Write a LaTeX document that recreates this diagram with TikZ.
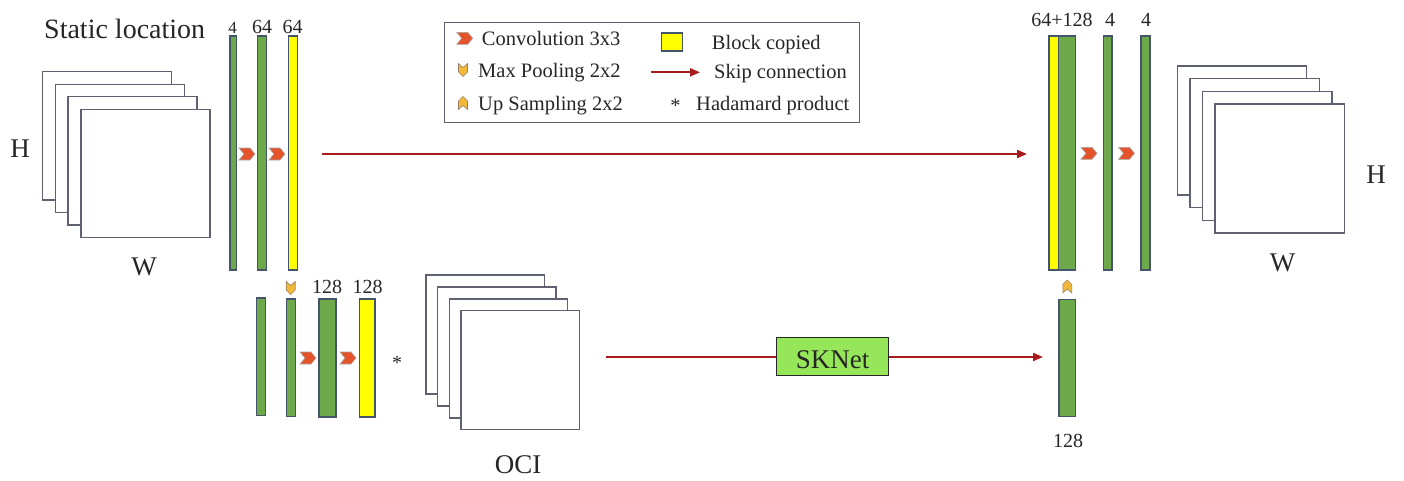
\documentclass[tikz,border=0pt]{standalone}
\usepackage{fontspec}
\setmainfont{Liberation Serif}
\usetikzlibrary{arrows.meta,fit}

\definecolor{barGreen}{HTML}{6DA94A}
\definecolor{barYellow}{HTML}{FFFF00}
\definecolor{barEdge}{HTML}{44546A}
\definecolor{mapEdge}{HTML}{5E6270}
\definecolor{skipRed}{HTML}{A51C1C}
\definecolor{convFill}{HTML}{E4532A}
\definecolor{poolFill}{HTML}{F2B83A}
\definecolor{sknetFill}{HTML}{96E65A}
\definecolor{inkGray}{HTML}{262626}

\tikzset{
  gbar/.style={draw=barEdge, fill=barGreen, line width=1.2pt, inner sep=0pt},
  ybar/.style={draw=barEdge, fill=barYellow, line width=1.2pt, inner sep=0pt},
  fmap/.style={draw=mapEdge, fill=white, line width=1.4pt, inner sep=0pt},
  skiparrow/.style={draw=skipRed, line width=2pt, -{Triangle[length=10pt,width=8pt]}},
  skipline/.style={draw=skipRed, line width=2pt},
  numlbl/.style={inner sep=0pt, anchor=base, text=inkGray, font=\fontsize{20}{22}\selectfont},
  biglbl/.style={inner sep=0pt, anchor=base, text=inkGray, font=\fontsize{27}{30}\selectfont},
  legtxt/.style={inner sep=0pt, anchor=base west, text=inkGray, font=\fontsize{20.5}{23}\selectfont},
  convicon/.pic={\draw[fill=convFill, draw=gray!70, line width=0.6pt]
      (-8,-6) -- (3,-6) -- (8,0) -- (3,6) -- (-8,6) -- (-3,0) -- cycle;},
  poolicon/.pic={\draw[fill=poolFill, draw=gray!80!orange, line width=0.6pt]
      (-4.5,-6.5) -- (0,-2.5) -- (4.5,-6.5) -- (4.5,2) -- (0,6.5) -- (-4.5,2) -- cycle;},
  upicon/.pic={\draw[fill=poolFill, draw=gray!80!orange, line width=0.6pt]
      (-4.5,6.5) -- (0,2.5) -- (4.5,6.5) -- (4.5,-2) -- (0,-6.5) -- (-4.5,-2) -- cycle;},
}

\begin{document}
\begin{tikzpicture}[x=1pt, y=-1pt]
\useasboundingbox[fill=white] (0,0) rectangle (1404,480);

% ---- input feature maps (static location) ----
\foreach \i/\nm in {0/inA,1/inB,2/inC,3/inD}{
  \node[fmap, fit={({42.7+12.7*\i},{71.7+12.5*\i}) ({171.7+12.7*\i},{200+12.5*\i})}] (\nm) {};
}
\node[biglbl, font=\fontsize{28}{30}\selectfont, anchor=base west] (title) at (44,38.3) {Static location};
\node[biglbl] (inH) at (20,157) {H};
\node[biglbl] (inW) at (144,275) {W};

% ---- encoder, first level ----
\node[gbar, fit={(230,36) (236.7,270)}] (L1) {};
\node[gbar, fit={(257.7,36) (266.7,270)}] (L2) {};
\node[ybar, fit={(288.3,36) (297.3,270)}] (L3) {};
\node[numlbl, font=\fontsize{17}{20}\selectfont] at (232.5,33.5) {4};
\node[numlbl] at (262,33.5) {64};
\node[numlbl] at (292.5,33.5) {64};
\pic at (247,154) {convicon};
\pic at (277,154) {convicon};

% ---- encoder, second level ----
\node[gbar, fit={(256.7,298) (265.7,415.7)}] (B1) {};
\node[gbar, fit={(286.7,299) (295.7,416.7)}] (B2) {};
\node[gbar, fit={(319,299) (336,417)}] (B3) {};
\node[ybar, fit={(359.3,299) (375,417)}] (B4) {};
\pic at (290.7,288) {poolicon};
\node[numlbl] at (327,293) {128};
\node[numlbl] at (367.5,293) {128};
\pic at (308,358) {convicon};
\pic at (348,358) {convicon};
\node[numlbl] (hadm) at (397,369) {*};

% ---- OCI feature maps ----
\foreach \i/\nm in {0/ociA,1/ociB,2/ociC,3/ociD}{
  \node[fmap, fit={({426+11.7*\i},{275+11.9*\i}) ({544.3+11.7*\i},{394+11.9*\i})}] (\nm) {};
}
\node[biglbl] (ocilbl) at (518,473) {OCI};

% ---- SKNet ----
\node[draw=black!85, fill=sknetFill, line width=1.2pt, inner sep=0pt,
      fit={(776.7,337.3) (888.3,375.7)}] (sk) {};
\node[biglbl] at (832.5,368) {SKNet};
\coordinate (ociOut) at (606,357);
\coordinate (skIn) at (1043,357);
\draw[skipline] (ociOut) -- (sk.west |- ociOut);
\draw[skiparrow] (sk.east |- ociOut) -- (skIn);

% ---- decoder ----
\node[gbar, fit={(1059,299.3) (1075.7,416.7)}] (R5) {};
\node[numlbl] at (1068,447) {128};
\pic at (1067.3,286.5) {upicon};

\node[ybar, fit={(1049,36) (1058.3,270)}] (R1) {};
\node[gbar, fit={(1058.3,36) (1075.7,270)}] (R2) {};
\node[gbar, fit={(1103.3,36) (1112,270)}] (R3) {};
\node[gbar, fit={(1141,36) (1150,270)}] (R4) {};
\node[numlbl] at (1062,26.7) {64+128};
\node[numlbl] at (1110,26.7) {4};
\node[numlbl] at (1146,26.7) {4};
\pic at (1089,153.3) {convicon};
\pic at (1126.5,153.3) {convicon};

% ---- skip connection ----
\coordinate (skipA) at (322,154);
\coordinate (skipB) at (1027,154);
\draw[skiparrow] (skipA) -- (skipB);

% ---- output feature maps ----
\foreach \i/\nm in {0/outA,1/outB,2/outC,3/outD}{
  \node[fmap, fit={({1177.3+12.6*\i},{66+12.7*\i}) ({1306.7+12.6*\i},{195+12.7*\i})}] (\nm) {};
}
\node[biglbl] (outH) at (1376,183) {H};
\node[biglbl] (outW) at (1282.7,271.7) {W};

% ---- legend ----
\node[draw=mapEdge, line width=1.4pt, inner sep=0pt, fit={(444.7,22.3) (859.3,122.3)}] (legend) {};
\pic at (464.7,38.3) {convicon};
\node[legtxt] at (481.7,45.5) {Convolution 3x3};
\pic at (463,70) {poolicon};
\node[legtxt] at (478,77) {Max Pooling 2x2};
\pic at (463,103) {upicon};
\node[legtxt] at (478,110) {Up Sampling 2x2};
\node[ybar, fit={(661.7,33) (682.3,51)}] (legY) {};
\node[legtxt] at (711.7,49.3) {Block copied};
\coordinate (legA) at (650.7,72.3);
\coordinate (legB) at (700,72.3);
\draw[skiparrow] (legA) -- (legB);
\node[legtxt] at (714,78.3) {Skip connection};
\node[legtxt, anchor=base] at (675.5,112) {*};
\node[legtxt] at (696,110) {Hadamard product};
\end{tikzpicture}
\end{document}
